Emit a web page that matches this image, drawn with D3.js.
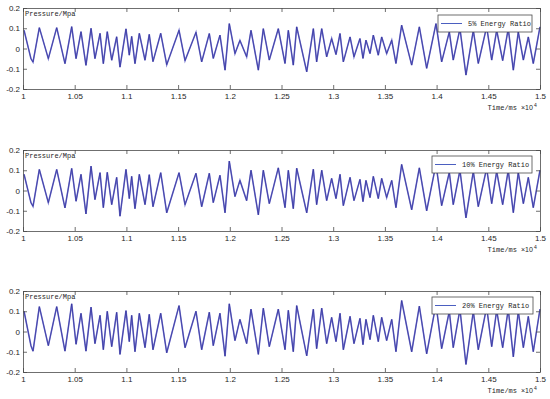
<!DOCTYPE html>
<html>
<head>
<meta charset="UTF-8">
<style>
  body { margin: 0; background: #fff; }
  .tick-label { font-family: 'Liberation Sans', Arial, sans-serif; font-size: 8px; fill: #262626; }
  .mono { font-family: 'Liberation Mono', 'DejaVu Sans Mono', monospace; font-size: 7px; fill: #262626; }
</style>
</head>
<body>
<svg id="chart" width="550" height="399"></svg>
<script src="https://d3js.org/d3.v7.min.js"></script>
<script>
// time stamps (ms) of the turning points
const times = [10010,10077,10097,10158,10245,10326,10406,10471,10513,10561,10609,10658,10696,10745,10777,10815,10858,10906,10938,10996,11028,11051,11083,11125,11180,11221,11257,11332,11390,11509,11567,11673,11728,11802,11840,11905,11954,11995,12050,12098,12163,12205,12276,12324,12382,12469,12534,12566,12614,12647,12744,12808,12840,12889,12937,12985,13027,13066,13098,13163,13201,13259,13288,13317,13356,13388,13436,13469,13517,13566,13607,13662,13759,13833,13904,13994,14049,14123,14161,14226,14284,14355,14403,14484,14533,14581,14639,14693,14742,14790,14839,14887,14935,15000];
// pressure (MPa) at those points, one list per energy ratio
const p5 = [0.09,-0.05,-0.067,0.103,-0.05,0.103,-0.075,0.108,-0.05,0.083,-0.083,0.1,-0.05,0.075,-0.075,0.083,-0.058,0.058,-0.092,0.097,-0.033,0.06,-0.075,0.075,-0.058,0.07,-0.065,0.075,-0.08,0.09,-0.06,0.08,-0.066,0.074,-0.049,0.066,-0.107,0.123,-0.025,0.04,-0.041,0.09,-0.107,0.098,-0.057,0.098,-0.074,0.09,-0.082,0.107,-0.115,0.098,-0.066,0.098,-0.041,0.049,-0.03,0.074,-0.066,0.057,-0.041,0.049,-0.049,0.041,-0.025,0.066,-0.033,0.057,-0.025,0.041,-0.074,0.115,-0.082,0.107,-0.098,0.123,-0.066,0.082,-0.057,0.098,-0.131,0.09,-0.074,0.107,-0.057,0.09,-0.06,0.098,-0.107,0.082,-0.057,0.057,-0.074,0.107];
const p10 = [0.08,-0.06,-0.078,0.104,-0.06,0.104,-0.086,0.109,-0.053,0.08,-0.116,0.12,-0.045,0.088,-0.085,0.09,-0.07,0.065,-0.127,0.104,-0.04,0.07,-0.09,0.08,-0.07,0.078,-0.08,0.088,-0.11,0.088,-0.07,0.085,-0.08,0.085,-0.06,0.075,-0.11,0.145,-0.03,0.05,-0.05,0.1,-0.12,0.1,-0.065,0.112,-0.085,0.1,-0.09,0.11,-0.11,0.105,-0.07,0.1,-0.05,0.06,-0.04,0.08,-0.075,0.065,-0.05,0.055,-0.055,0.05,-0.035,0.07,-0.04,0.06,-0.035,0.05,-0.085,0.129,-0.095,0.112,-0.1,0.13,-0.075,0.09,-0.07,0.1,-0.135,0.095,-0.08,0.11,-0.065,0.095,-0.07,0.1,-0.11,0.09,-0.065,0.065,-0.085,0.1];
const p20 = [0.1,-0.07,-0.097,0.123,-0.07,0.123,-0.097,0.137,-0.063,0.09,-0.097,0.12,-0.06,0.08,-0.09,0.1,-0.075,0.095,-0.113,0.103,-0.05,0.08,-0.1,0.09,-0.08,0.085,-0.09,0.09,-0.105,0.128,-0.08,0.1,-0.09,0.095,-0.07,0.09,-0.122,0.137,-0.045,0.06,-0.06,0.11,-0.113,0.115,-0.075,0.11,-0.09,0.105,-0.1,0.128,-0.12,0.11,-0.085,0.115,-0.06,0.07,-0.05,0.09,-0.09,0.075,-0.06,0.065,-0.065,0.06,-0.04,0.08,-0.05,0.07,-0.045,0.06,-0.1,0.153,-0.1,0.125,-0.11,0.135,-0.085,0.1,-0.08,0.11,-0.163,0.1,-0.09,0.12,-0.075,0.105,-0.08,0.11,-0.125,0.1,-0.08,0.075,-0.1,0.11];

const labels = ["5% Energy Ratio", "10% Energy Ratio", "20% Energy Ratio"];
const series = [p5, p10, p20];
const yTicks = [-0.2, -0.1, 0, 0.1, 0.2];
const xTicks = [10000,10500,11000,11500,12000,12500,13000,13500,14000,14500,15000];

const svg = d3.select("#chart");
const left = 23, right = 540, plotH = 81;
const tops = [8, 150, 291];
const legendBox = [[438, 15, 94], [432, 156, 100], [432, 297, 101]];

const x = d3.scaleLinear().domain([10000, 15000]).range([left, right]);

series.forEach((vals, k) => {
  const top = tops[k];
  const y = d3.scaleLinear().domain([-0.2, 0.2]).range([top + plotH, top]);
  const g = svg.append("g");

  // signal
  const line = d3.line()
    .x((d, i) => x(times[i]))
    .y(d => y(d));
  g.append("path").datum(vals)
    .attr("d", line)
    .attr("fill", "none")
    .attr("stroke", "#7878d0")
    .attr("stroke-width", 1.6);
  g.append("path").datum(vals)
    .attr("d", line)
    .attr("fill", "none")
    .attr("stroke", "#2e2e98")
    .attr("stroke-width", 0.7);

  // axes, ticks pointing inwards
  g.append("g").attr("transform", "translate(0," + (top + plotH) + ")")
    .call(d3.axisBottom(x).tickValues(xTicks).tickSizeInner(-4).tickSizeOuter(0).tickPadding(4)
      .tickFormat(d => String(+(d / 1e4).toFixed(2))));
  g.append("g").attr("transform", "translate(0," + top + ")")
    .call(d3.axisTop(x).tickValues(xTicks).tickSizeInner(-4).tickSizeOuter(0).tickFormat(""));
  g.append("g").attr("transform", "translate(" + left + ",0)")
    .call(d3.axisLeft(y).tickValues(yTicks).tickSizeInner(-4).tickSizeOuter(0).tickPadding(3)
      .tickFormat(d => String(+d.toFixed(1))));
  g.append("g").attr("transform", "translate(" + right + ",0)")
    .call(d3.axisRight(y).tickValues(yTicks).tickSizeInner(-4).tickSizeOuter(0).tickFormat(""));
  g.selectAll(".domain, .tick line").attr("stroke", "#4a4a4a").attr("stroke-width", 0.8);
  g.selectAll(".tick text").attr("class", "tick-label").attr("font-family", null).attr("font-size", null).attr("fill", null);

  // axis titles
  g.append("text").attr("class", "mono").attr("x", left + 2).attr("y", top + 8).text("Pressure/Mpa");
  const xt = top + plotH + 21;
  g.append("text").attr("class", "mono").attr("x", 517).attr("y", xt).attr("text-anchor", "end").text("Time/ms");
  g.append("text").attr("class", "tick-label").attr("x", 521).attr("y", xt).style("font-size", "7px").text("\u00d710");
  g.append("text").attr("class", "tick-label").attr("x", 534).attr("y", xt - 3).style("font-size", "5px").text("4");

  // legend
  const [lx, ly, lw] = legendBox[k];
  g.append("rect").attr("x", lx).attr("y", ly).attr("width", lw).attr("height", 17)
    .attr("fill", "#fff").attr("stroke", "#4a4a4a").attr("stroke-width", 0.8);
  g.append("line").attr("x1", lx + 3).attr("x2", lx + 24).attr("y1", ly + 8.5).attr("y2", ly + 8.5)
    .attr("stroke", "#4b5fc0").attr("stroke-width", 1);
  g.append("text").attr("class", "mono").attr("x", lx + 30).attr("y", ly + 11).text(labels[k]);
});
</script>
</body>
</html>
